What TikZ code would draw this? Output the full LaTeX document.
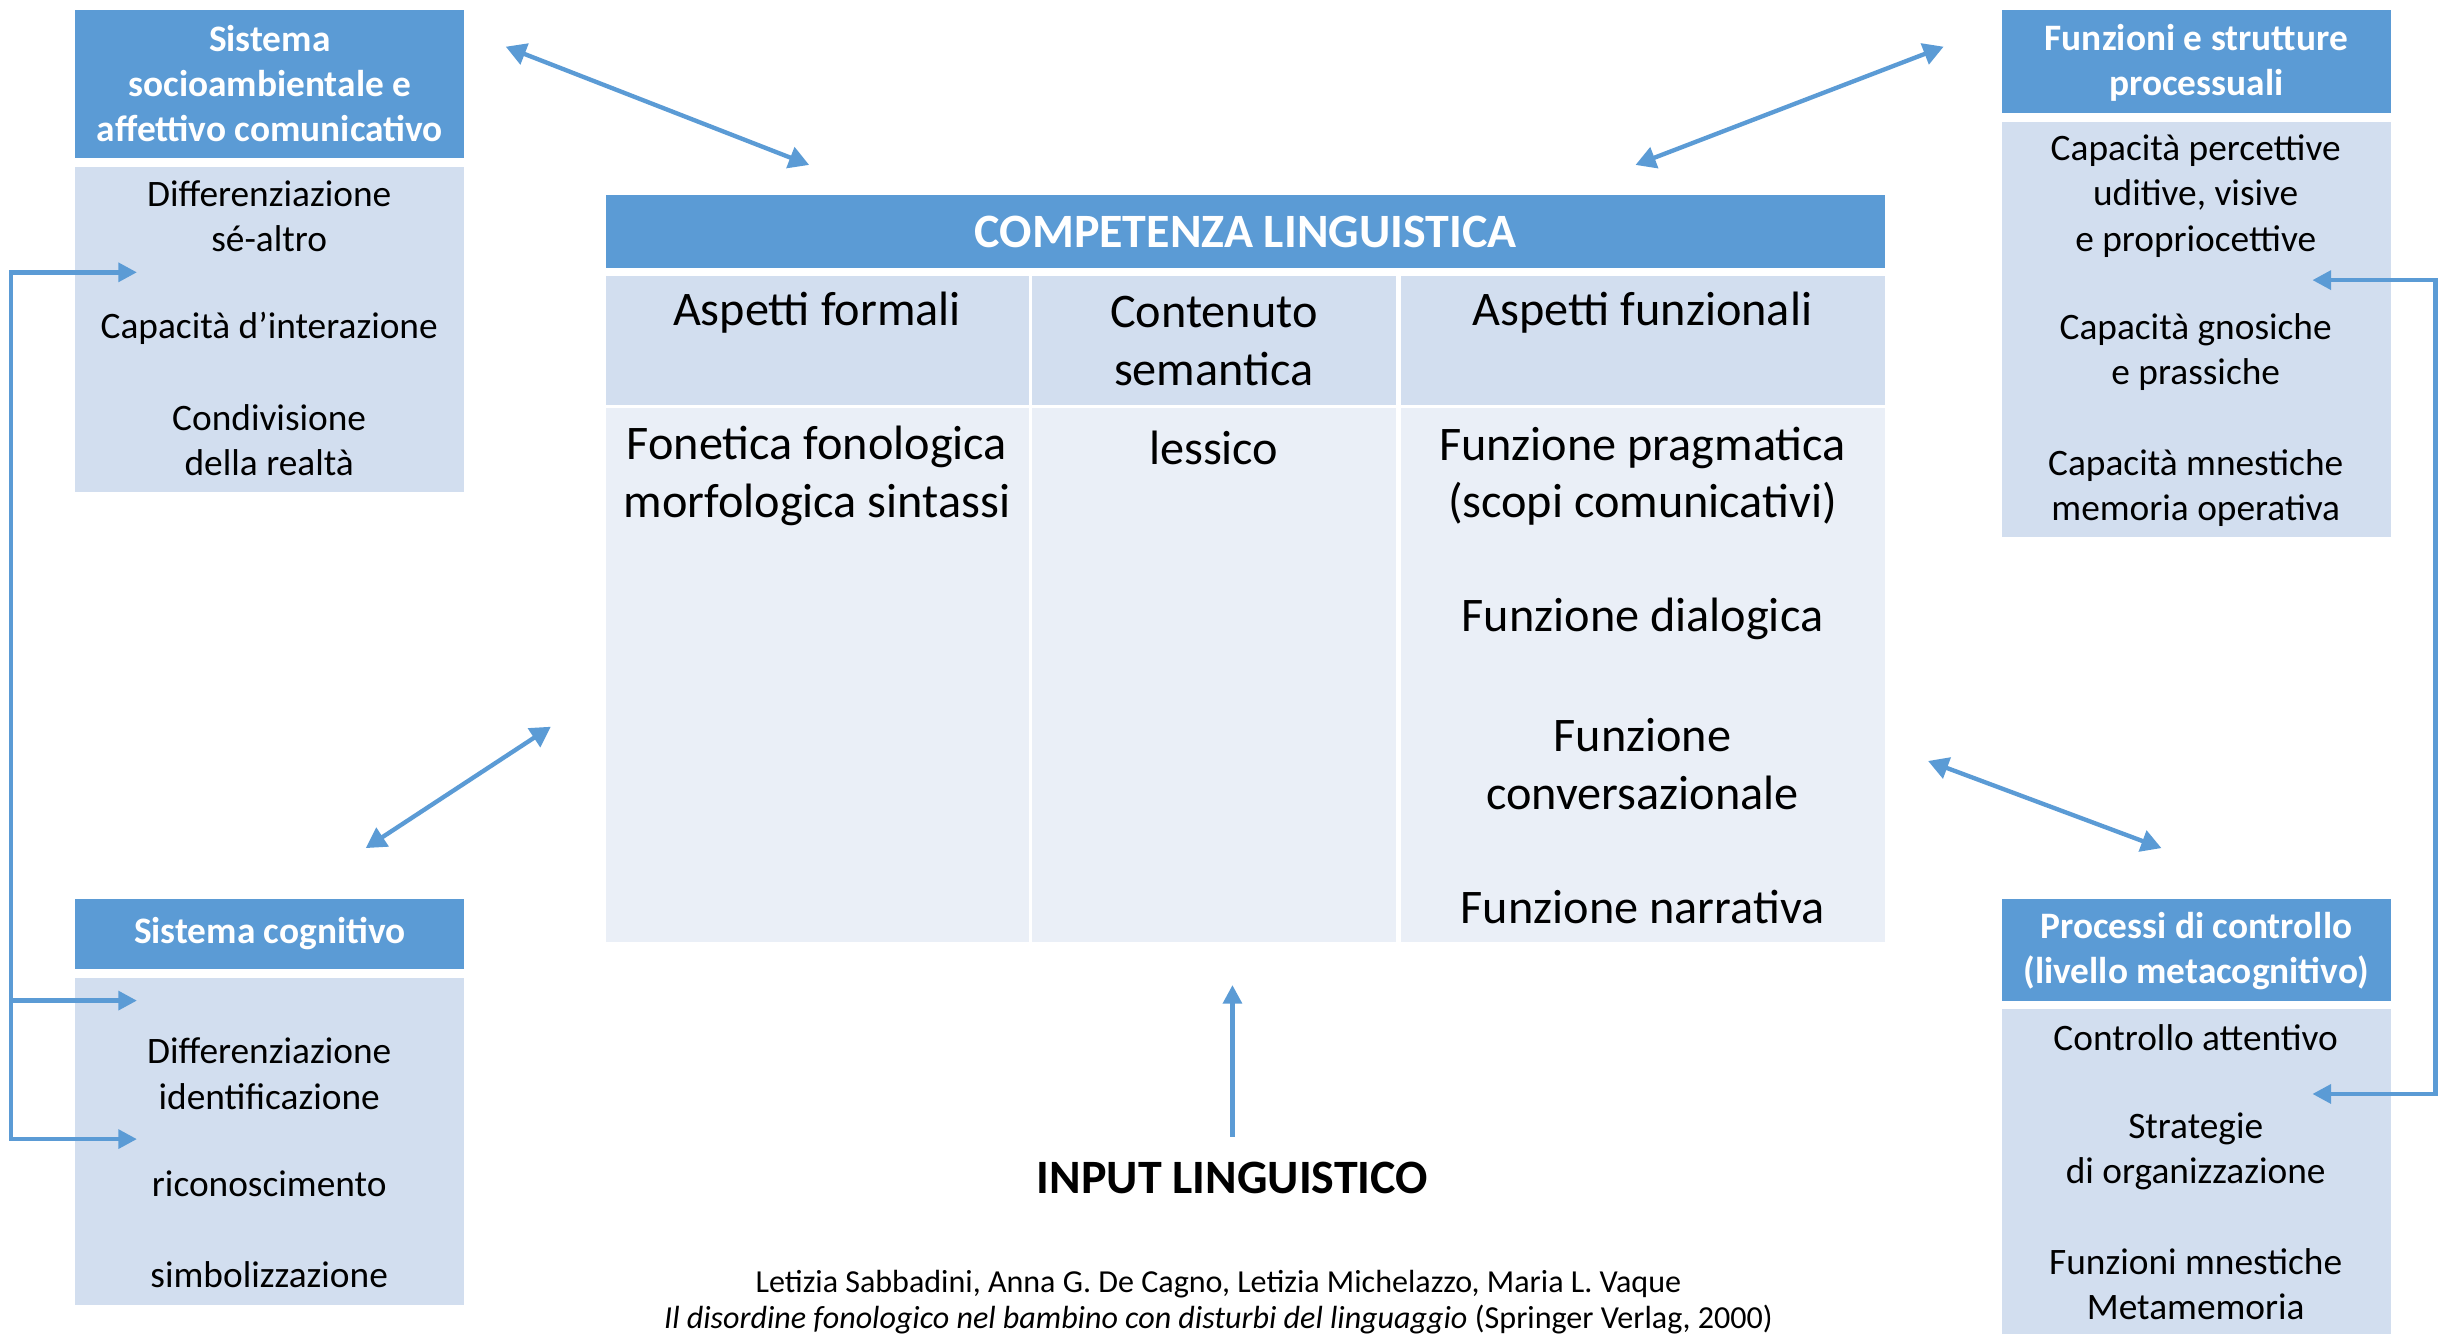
\documentclass[tikz,border=0pt]{standalone}
\usepackage{fontspec}
\setmainfont{Carlito}
\usetikzlibrary{arrows.meta}
\definecolor{hdrblue}{HTML}{5B9BD5}
\definecolor{cellblue}{HTML}{D2DEEF}
\definecolor{cellpale}{HTML}{EAEFF7}
\tikzset{
    head-box/.style = {fill=hdrblue, text=white, font=\fontsize{12}{14.5}\selectfont\bfseries, align=center, inner sep=0pt, anchor=north west, minimum width=125pt},
    body-box/.style = {fill=cellblue, inner sep=0pt, anchor=north west, minimum width=125pt},
    item-text/.style = {font=\fontsize{12}{14.5}\selectfont, align=center, inner sep=0pt},
    cell-box/.style = {fill=cellblue, inner sep=0pt, anchor=north west, minimum height=41.5pt},
    cell-low/.style = {fill=cellpale, inner sep=0pt, anchor=north west, minimum height=171.5pt},
    cell-text/.style = {font=\fontsize{15.5}{18.5}\selectfont, align=center, inner sep=0pt},
    link/.style = {draw=hdrblue, line width=1.4pt, {Triangle[length=6.5pt,width=7pt]}-{Triangle[length=6.5pt,width=7pt]}},
    feed/.style = {draw=hdrblue, line width=1.4pt, -{Triangle[length=6pt,width=6pt]}},
    bracket/.style = {draw=hdrblue, line width=1.4pt, {Triangle[length=6pt,width=6pt]}-{Triangle[length=6pt,width=6pt]}},
}
\begin{document}
\begin{tikzpicture}[x=0.5pt, y=-0.5pt]
\useasboundingbox (0,0) rectangle (1568,857);

% side box: top left
\node[head-box, minimum height=47.5pt] (socHead) at (48,6) {Sistema\\socioambientale e\\affettivo comunicativo};
\node[body-box, minimum height=104.5pt] (socBody) at (48,107) {};
\node[item-text] (socA) at (173,139) {Differenziazione\\sé-altro};
\node[item-text] (socB) at (173,211) {Capacità d’interazione};
\node[item-text] (socC) at (173,283) {Condivisione\\della realtà};

% side box: top right
\node[head-box, minimum height=33pt, text depth=1pt] (funHead) at (1286,6) {Funzioni e strutture\\processuali};
\node[body-box, minimum height=133.5pt] (funBody) at (1286,78) {};
\node[item-text] (funA) at (1411,126) {Capacità percettive\\uditive, visive\\e propriocettive};
\node[item-text] (funB) at (1411,226.5) {Capacità gnosiche\\e prassiche};
\node[item-text] (funC) at (1411,313.5) {Capacità mnestiche\\memoria operativa};

% side box: bottom left
\node[head-box, minimum height=22.5pt] (cogHead) at (48,577) {Sistema cognitivo};
\node[body-box, minimum height=105pt] (cogBody) at (48,628) {};
\node[item-text] (cogA) at (173,690) {Differenziazione\\identificazione};
\node[item-text] (cogB) at (173,761) {riconoscimento};
\node[item-text] (cogC) at (173,819) {simbolizzazione};

% side box: bottom right
\node[head-box, minimum height=33pt, text depth=1pt] (ctrlHead) at (1286,577) {Processi di controllo\\(livello metacognitivo)};
\node[body-box, minimum height=111pt] (ctrlBody) at (1286,648) {};
\node[item-text] (ctrlA) at (1411,667) {Controllo attentivo};
\node[item-text] (ctrlB) at (1411,740) {Strategie\\di organizzazione};
\node[item-text] (ctrlC) at (1411,825.5) {Funzioni mnestiche\\Metamemoria};

% central table
\node[fill=hdrblue, text=white, inner sep=0pt, anchor=north west, minimum width=411pt, minimum height=23.5pt,
      font=\fontsize{15.4}{17}\selectfont\bfseries] (title) at (389,125) {COMPETENZA LINGUISTICA};
\node[cell-box, minimum width=136pt] (formHead) at (389,177) {};
\node[cell-box, minimum width=117pt] (semHead) at (663,177) {};
\node[cell-box, minimum width=155.5pt] (funzHead) at (900,177) {};
\node[cell-low, minimum width=136pt] (formBody) at (389,262) {};
\node[cell-low, minimum width=117pt] (semBody) at (663,262) {};
\node[cell-low, minimum width=155.5pt] (funzBody) at (900,262) {};

\node[cell-text] (formT) at (525,201) {Aspetti formali};
\node[cell-text] (semT) at (780,219) {Contenuto\\semantica};
\node[cell-text] (funzT) at (1055.5,201) {Aspetti funzionali};
\node[cell-text] (formA) at (525,306) {Fonetica fonologica\\morfologica sintassi};
\node[cell-text] (semA) at (780,288) {lessico};
\node[cell-text] (funzA) at (1055.5,306) {Funzione pragmatica\\(scopi comunicativi)};
\node[cell-text] (funzB) at (1055.5,398) {Funzione dialogica};
\node[cell-text] (funzC) at (1055.5,491) {Funzione\\conversazionale};
\node[cell-text] (funzD) at (1055.5,583) {Funzione narrativa};

% input and source
\node[inner sep=0pt, font=\fontsize{15.4}{17}\selectfont\bfseries] (input) at (792,757) {INPUT LINGUISTICO};
\node[inner sep=0pt, align=center, font=\fontsize{10.3}{11.5}\selectfont] (source) at (783,837)
    {Letizia Sabbadini, Anna G. De Cagno, Letizia Michelazzo, Maria L. Vaque\\
     \textit{Il disordine fonologico nel bambino con disturbi del linguaggio} (Springer Verlag, 2000)};

% double arrows between the boxes and the table
\coordinate (tlOut) at (325,30);
\coordinate (tlIn) at (520,106);
\coordinate (trOut) at (1249,30);
\coordinate (trIn) at (1051,106);
\coordinate (blIn) at (354,467);
\coordinate (blOut) at (235,545);
\coordinate (brIn) at (1239,489);
\coordinate (brOut) at (1389,545);
\draw[link] (tlOut) -- (tlIn);
\draw[link] (trOut) -- (trIn);
\draw[link] (blIn) -- (blOut);
\draw[link] (brIn) -- (brOut);

% input arrow
\coordinate (inTip) at (792,633);
\draw[feed] ([yshift=8pt]input.north) -- (inTip);

% left bracket
\coordinate (lbTop) at (7,175);
\coordinate (lbMid) at (7,643);
\coordinate (lbBot) at (7,732);
\coordinate (socTip) at (88,175);
\coordinate (cogTipA) at (88,643);
\coordinate (cogTipB) at (88,732);
\draw[bracket] (socTip) -- (lbTop) -- (lbBot) -- (cogTipB);
\draw[feed] (lbMid) -- (cogTipA);

% right bracket
\coordinate (rbTop) at (1565,180);
\coordinate (rbBot) at (1565,703);
\coordinate (funTip) at (1486,180);
\coordinate (ctrlTip) at (1486,703);
\draw[bracket] (funTip) -- (rbTop) -- (rbBot) -- (ctrlTip);
\end{tikzpicture}
\end{document}
